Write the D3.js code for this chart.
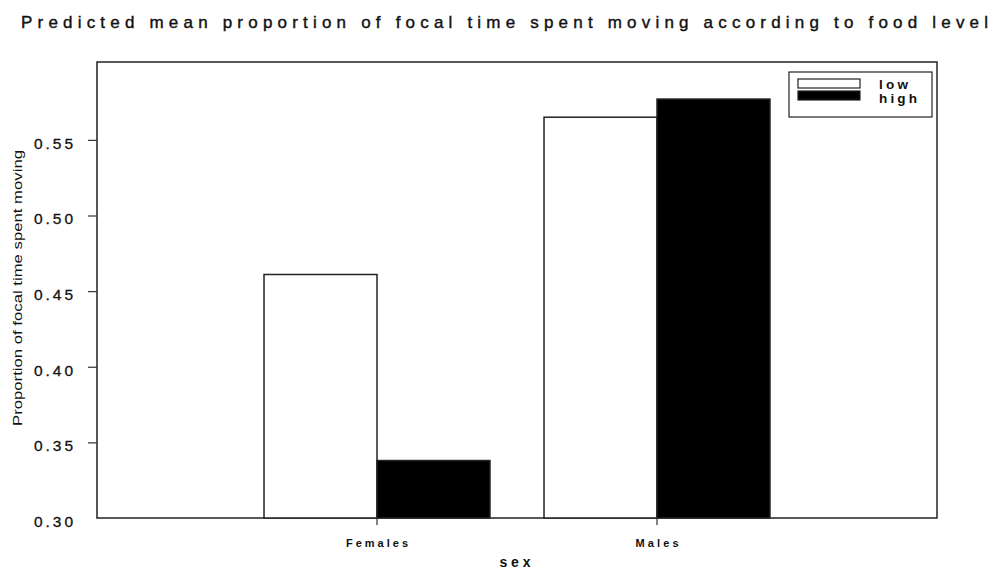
<!DOCTYPE html>
<html><head><meta charset="utf-8">
<script src="https://cdn.jsdelivr.net/npm/d3@7"></script>
<style>body{margin:0;background:#fff}svg{display:block}text{font-family:"Liberation Sans",Arial,sans-serif;fill:#111}</style>
</head><body><svg id="c" width="995" height="577"></svg>
<script>
const categories = ["Females", "Males"];
const levels = ["low", "high"];
const lowValues = [0.461, 0.565];
const highValues = [0.338, 0.577];
const yTicks = [0.30, 0.35, 0.40, 0.45, 0.50, 0.55];
const yTickLabels = ["0.30", "0.35", "0.40", "0.45", "0.50", "0.55"];

const svg = d3.select("#c");
const L = 97, R = 937, T = 62, B = 518;
const x = d3.scaleBand().domain(categories).range([L, R]).paddingInner(0.193).paddingOuter(0.5965);
const xi = d3.scaleBand().domain(levels).range([0, x.bandwidth()]);
const y = d3.scaleLinear().domain([0.30, 0.6015]).range([B, T]);
const fills = {low: "#fff", high: "#000"};
const data = categories.map((c, i) => ({c, vals: [{k: "low", v: lowValues[i]}, {k: "high", v: highValues[i]}]}));

// frame
svg.append("rect").attr("x", L).attr("y", T).attr("width", R - L).attr("height", B - T)
  .attr("fill", "none").attr("stroke", "#222").attr("stroke-width", 1.5);

// bars
data.forEach(d => {
  d.vals.forEach(b => {
    svg.append("rect")
      .attr("x", x(d.c) + xi(b.k)).attr("y", y(b.v))
      .attr("width", xi.bandwidth()).attr("height", y(0.30) - y(b.v))
      .attr("fill", fills[b.k]).attr("stroke", "#222").attr("stroke-width", 1.5);
  });
});

// y axis
const ya = svg.append("g").attr("transform", `translate(${L},0)`)
  .call(d3.axisLeft(y).tickValues(yTicks).tickSize(9).tickFormat((d, i) => yTickLabels[i]));
ya.select(".domain").remove();
ya.selectAll(".tick line").attr("stroke", "#333").attr("stroke-width", 1.2);
ya.selectAll(".tick").filter(d => d === 0.30).select("line").remove();
ya.selectAll(".tick text").attr("x", -24).attr("y", 3).attr("dy", "0.35em").attr("font-size", 15.5)
  .attr("textLength", 39).attr("lengthAdjust", "spacing").style("font-family", "Liberation Sans")
  .attr("fill", "#111").attr("stroke", "#111").attr("stroke-width", 0.3);

// x axis
const xa = svg.append("g").attr("transform", `translate(0,${B})`)
  .call(d3.axisBottom(x).tickSize(7).tickPadding(14));
xa.select(".domain").remove();
xa.selectAll(".tick line").attr("stroke", "#333").attr("stroke-width", 1.2);
xa.selectAll(".tick text").attr("font-size", 11).attr("font-weight", "bold").attr("fill", "#111")
  .style("font-family", "Liberation Sans")
  .attr("textLength", d => d === "Females" ? 62 : 43).attr("lengthAdjust", "spacing");

// axis titles
svg.append("text").attr("x", 515).attr("y", 567).attr("text-anchor", "middle")
  .attr("font-size", 14).attr("font-weight", "bold").attr("textLength", 31).attr("lengthAdjust", "spacing").text("sex");
svg.append("text").attr("transform", "translate(22,288) rotate(-90)").attr("text-anchor", "middle")
  .attr("font-size", 13).attr("textLength", 276).attr("lengthAdjust", "spacingAndGlyphs")
  .text("Proportion of focal time spent moving");

// title
svg.append("text").attr("x", 21).attr("y", 28).attr("font-size", 17)
  .attr("stroke", "#111").attr("stroke-width", 0.4)
  .attr("textLength", 967).attr("lengthAdjust", "spacing")
  .text("Predicted mean proportion of focal time spent moving according to food level");

// legend
const lg = svg.append("g");
lg.append("rect").attr("x", 789).attr("y", 72).attr("width", 143).attr("height", 45)
  .attr("fill", "#fff").attr("stroke", "#222").attr("stroke-width", 1.2);
levels.forEach((k, i) => {
  lg.append("rect").attr("x", 798).attr("y", 79 + i * 12).attr("width", 62).attr("height", 9)
    .attr("fill", fills[k]).attr("stroke", "#222").attr("stroke-width", 1.2);
  lg.append("text").attr("x", 879).attr("y", 89 + i * 13.5).attr("font-size", 13.5).attr("font-weight", "bold")
    .attr("textLength", k === "low" ? 29 : 38).attr("lengthAdjust", "spacing").text(k);
});
</script></body></html>
